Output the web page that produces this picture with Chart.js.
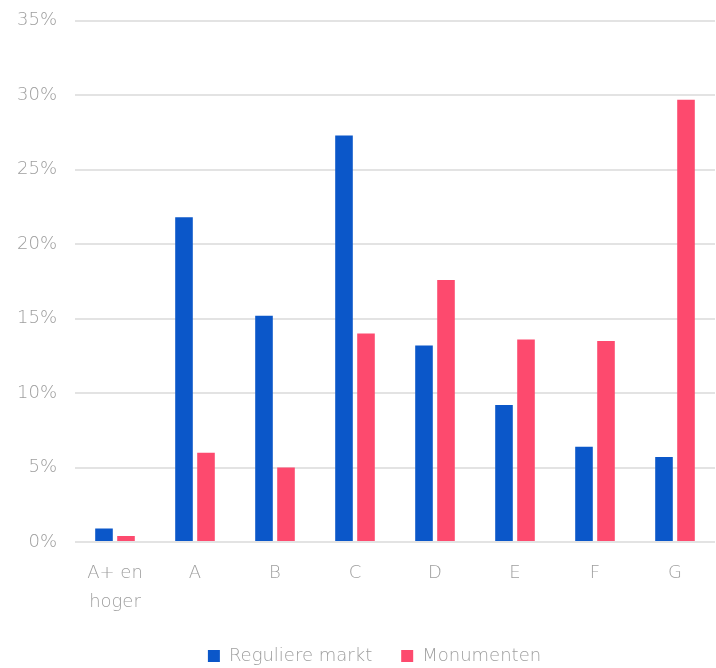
<!DOCTYPE html>
<html>
<head>
<meta charset="utf-8">
<script src="https://cdn.jsdelivr.net/npm/chart.js@4"></script>
<style>
  html, body { margin: 0; padding: 0; background: #fff; }
  #wrap { width: 716px; height: 668px; }
</style>
</head>
<body>
<div id="wrap"><canvas id="labelChart"></canvas></div>
<script>
// Energy label categories and shares (%)
const categories = [["A+ en", "hoger"], "A", "B", "C", "D", "E", "F", "G"];
const reguliereMarkt = [0.9, 21.8, 15.2, 27.3, 13.2, 9.2, 6.4, 5.7];
const monumenten = [0.4, 6.0, 5.0, 14.0, 17.6, 13.6, 13.5, 29.7];
const yTicks = [0, 5, 10, 15, 20, 25, 30, 35];

const textColor = "#9e9e9e";
const fontFamily = "'DejaVu Sans', sans-serif";

// nudge the legend a bit to the right, like in the original
const legendShift = {
    id: "legendShift",
    afterLayout(chart) {
        if (chart.legend) chart.legend.left += 34;
    }
};

new Chart(document.getElementById("labelChart"), {
    type: "bar",
    data: {
        labels: categories,
        datasets: [{
            label: "Reguliere markt",
            data: reguliereMarkt,
            backgroundColor: "#0b57c9",
            categoryPercentage: 0.55,
            barPercentage: 0.8
        }, {
            label: "Monumenten",
            data: monumenten,
            backgroundColor: "#fd4a6e",
            categoryPercentage: 0.55,
            barPercentage: 0.8
        }]
    },
    options: {
        responsive: true,
        maintainAspectRatio: false,
        animation: false,
        layout: { padding: { top: 1, right: 1, bottom: -7, left: 0 } },
        scales: {
            x: {
                grid: { display: false },
                border: { display: false },
                ticks: {
                    color: textColor,
                    font: { family: fontFamily, size: 18, weight: 200, lineHeight: 1.65 },
                    padding: 8,
                    maxRotation: 0
                },
                afterFit: scale => { scale.height = 76; }
            },
            y: {
                min: 0,
                max: 35,
                afterBuildTicks: scale => { scale.ticks = yTicks.map(v => ({ value: v })); },
                // invisible tick marks keep the labels away from the grid
                grid: { color: "#e3e3e3", lineWidth: 2, drawTicks: true, tickLength: 8, tickColor: "rgba(0,0,0,0)" },
                border: { display: false },
                ticks: {
                    color: textColor,
                    font: { family: fontFamily, size: 18, weight: 200 },
                    padding: 10,
                    callback: v => v + "%"
                },
                afterFit: scale => { scale.width = 75; }
            }
        },
        plugins: {
            legend: {
                position: "bottom",
                labels: {
                    color: textColor,
                    font: { family: fontFamily, size: 18, weight: 200 },
                    boxWidth: 12,
                    boxHeight: 12,
                    padding: 29
                }
            },
            tooltip: { enabled: false }
        }
    },
    plugins: [legendShift]
});
</script>
</body>
</html>
